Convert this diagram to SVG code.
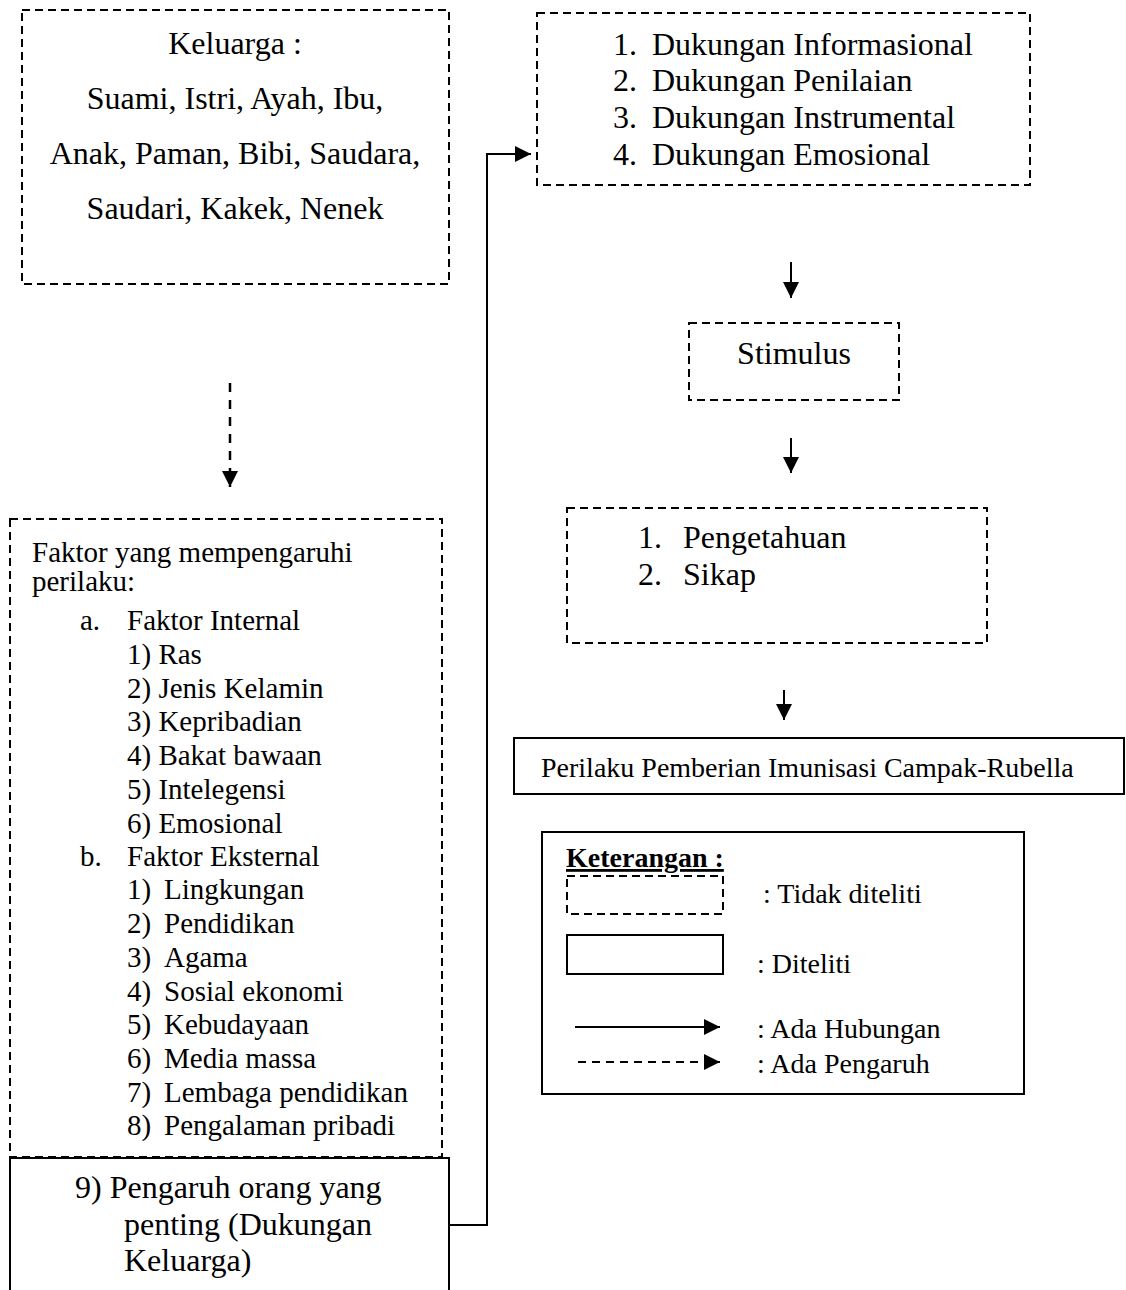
<svg xmlns="http://www.w3.org/2000/svg" width="1126" height="1290" viewBox="0 0 1126 1290">
<style>
  text { font-family: "Liberation Serif", "Times New Roman", serif; fill: #000; }
  .f32 { font-size: 32px; }
  .f29 { font-size: 29px; }
  .f28 { font-size: 28px; }
  .dash { fill: none; stroke: #000; stroke-width: 2; stroke-dasharray: 8 5; }
  .solid { fill: none; stroke: #000; stroke-width: 2; }
  .ln { fill: none; stroke: #000; stroke-width: 2; }
  .dln { fill: none; stroke: #000; stroke-width: 2.5; stroke-dasharray: 9 8; }
</style>
<defs>
  <marker id="ah" markerUnits="userSpaceOnUse" markerWidth="18" markerHeight="16" refX="16" refY="8" orient="auto">
    <path d="M0,0 L16,8 L0,16 Z" fill="#000"/>
  </marker>
</defs>
<rect width="1126" height="1290" fill="#fff"/>

<g id="keluarga">
  <rect class="dash" x="22" y="10" width="427" height="274"/>
  <text class="f32" x="235" y="54" text-anchor="middle">Keluarga :</text>
  <text class="f32" x="235" y="109" text-anchor="middle">Suami, Istri, Ayah, Ibu,</text>
  <text class="f32" x="235" y="164" text-anchor="middle">Anak, Paman, Bibi, Saudara,</text>
  <text class="f32" x="235" y="219" text-anchor="middle">Saudari, Kakek, Nenek</text>
</g>

<g id="dukungan">
  <rect class="dash" x="537" y="13" width="493" height="172"/>
  <text class="f32" x="613" y="55">1.</text><text class="f32" x="652" y="55">Dukungan Informasional</text>
  <text class="f32" x="613" y="91">2.</text><text class="f32" x="652" y="91">Dukungan Penilaian</text>
  <text class="f32" x="613" y="128">3.</text><text class="f32" x="652" y="128">Dukungan Instrumental</text>
  <text class="f32" x="613" y="165">4.</text><text class="f32" x="652" y="165">Dukungan Emosional</text>
</g>

<g id="stimulus">
  <rect class="dash" x="689" y="323" width="210" height="77"/>
  <text class="f32" x="794" y="364" text-anchor="middle">Stimulus</text>
</g>

<g id="pengetahuan">
  <rect class="dash" x="567" y="508" width="420" height="135"/>
  <text class="f32" x="638" y="548">1.</text><text class="f32" x="683" y="548">Pengetahuan</text>
  <text class="f32" x="638" y="585">2.</text><text class="f32" x="683" y="585">Sikap</text>
</g>

<g id="perilaku">
  <rect class="solid" x="514" y="738" width="610" height="56"/>
  <text class="f28" x="541" y="777">Perilaku Pemberian Imunisasi Campak-Rubella</text>
</g>

<g id="faktor">
  <rect class="dash" x="10" y="519" width="432" height="638"/>
  <text class="f29" x="32" y="562">Faktor yang mempengaruhi</text>
  <text class="f29" x="32" y="591">perilaku:</text>
  <text class="f29" x="80" y="630">a.</text><text class="f29" x="127" y="630">Faktor Internal</text>
  <text class="f29" x="127" y="664">1) Ras</text>
  <text class="f29" x="127" y="698">2) Jenis Kelamin</text>
  <text class="f29" x="127" y="731">3) Kepribadian</text>
  <text class="f29" x="127" y="765">4) Bakat bawaan</text>
  <text class="f29" x="127" y="799">5) Intelegensi</text>
  <text class="f29" x="127" y="833">6) Emosional</text>
  <text class="f29" x="80" y="866">b.</text><text class="f29" x="127" y="866">Faktor Eksternal</text>
  <text class="f29" x="127" y="899">1)</text><text class="f29" x="164" y="899">Lingkungan</text>
  <text class="f29" x="127" y="933">2)</text><text class="f29" x="164" y="933">Pendidikan</text>
  <text class="f29" x="127" y="967">3)</text><text class="f29" x="164" y="967">Agama</text>
  <text class="f29" x="127" y="1001">4)</text><text class="f29" x="164" y="1001">Sosial ekonomi</text>
  <text class="f29" x="127" y="1034">5)</text><text class="f29" x="164" y="1034">Kebudayaan</text>
  <text class="f29" x="127" y="1068">6)</text><text class="f29" x="164" y="1068">Media massa</text>
  <text class="f29" x="127" y="1102">7)</text><text class="f29" x="164" y="1102">Lembaga pendidikan</text>
  <text class="f29" x="127" y="1135">8)</text><text class="f29" x="164" y="1135">Pengalaman pribadi</text>
</g>

<g id="pengaruh">
  <rect x="10" y="1158" width="439" height="140" fill="#fff" stroke="#000" stroke-width="2"/>
  <text class="f32" x="75" y="1198">9) Pengaruh orang yang</text>
  <text class="f32" x="124" y="1235">penting (Dukungan</text>
  <text class="f32" x="124" y="1271">Keluarga)</text>
</g>

<g id="legend">
  <rect class="solid" x="542" y="832" width="482" height="262"/>
  <text x="566" y="867" font-size="28" font-weight="bold" text-decoration="underline">Keterangan :</text>
  <rect class="dash" x="567" y="876" width="156" height="38"/>
  <text class="f28" x="763" y="903">: Tidak diteliti</text>
  <rect class="solid" x="567" y="935" width="156" height="39"/>
  <text class="f28" x="757" y="973">: Diteliti</text>
  <line class="ln" x1="575" y1="1027" x2="720" y2="1027" marker-end="url(#ah)"/>
  <text class="f28" x="757" y="1038">: Ada Hubungan</text>
  <line class="ln" x1="578" y1="1062" x2="720" y2="1062" stroke-dasharray="8 6" marker-end="url(#ah)"/>
  <text class="f28" x="757" y="1073">: Ada Pengaruh</text>
</g>

<g id="connectors">
  <line class="ln" x1="791" y1="262" x2="791" y2="298" marker-end="url(#ah)"/>
  <line class="ln" x1="791" y1="438" x2="791" y2="473" marker-end="url(#ah)"/>
  <line class="ln" x1="784" y1="690" x2="784" y2="720" marker-end="url(#ah)"/>
  <line class="dln" x1="230" y1="383" x2="230" y2="487" marker-end="url(#ah)"/>
  <polyline class="ln" points="449,1225 487,1225 487,154 531,154" marker-end="url(#ah)"/>
</g>
</svg>
